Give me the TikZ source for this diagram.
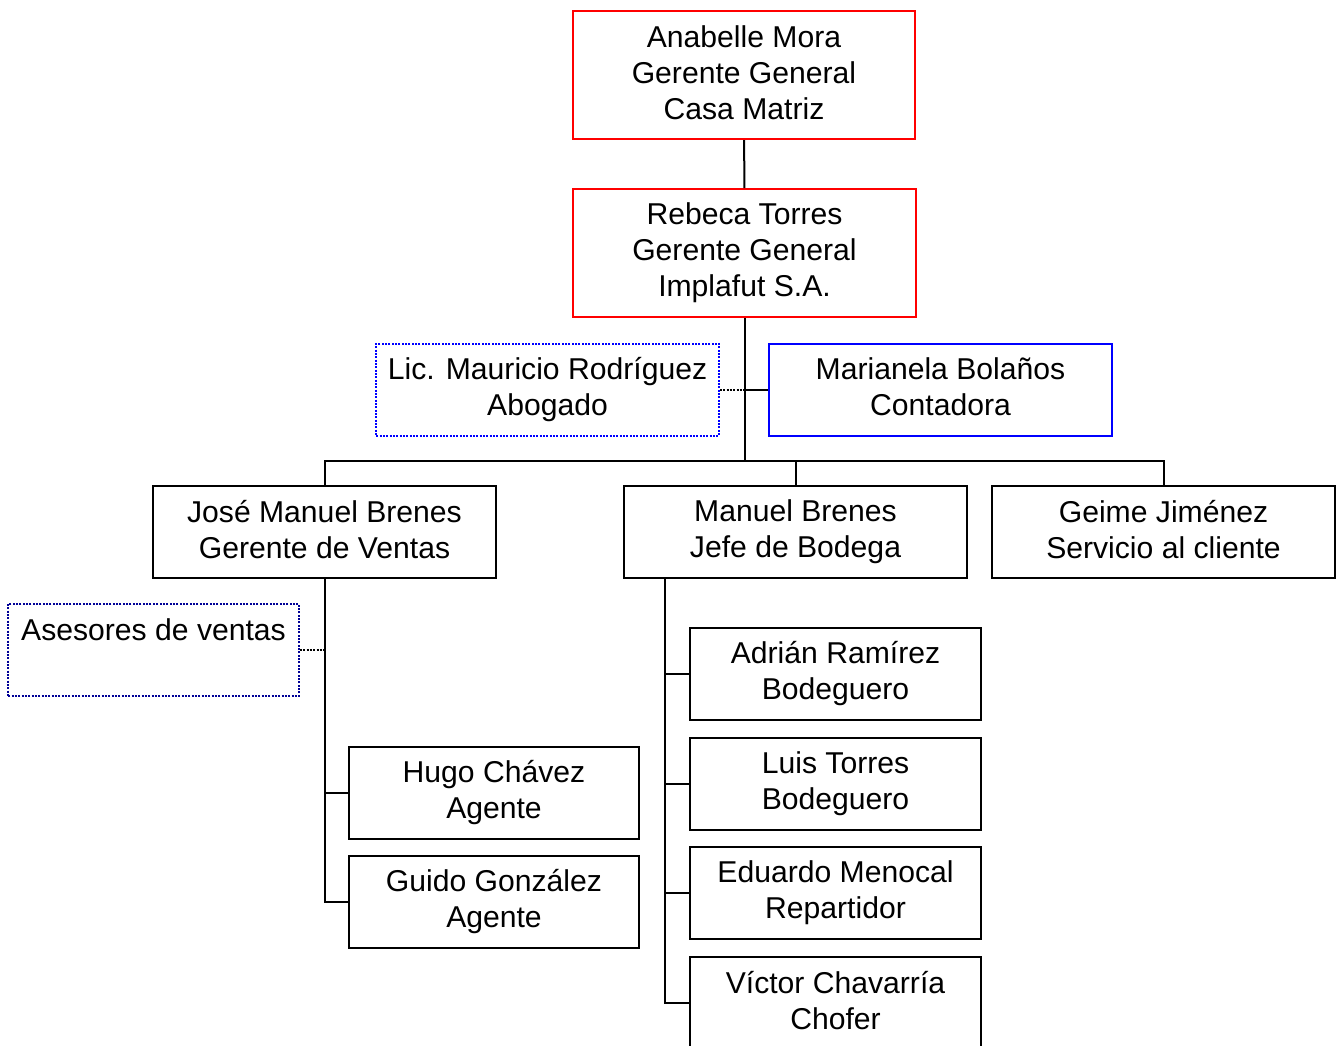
\documentclass[tikz,border=0pt]{standalone}
\usepackage{fontspec}
\setmainfont{Liberation Sans}
\usetikzlibrary{positioning}
\newcommand\linestrut{\rule[-4.2pt]{0pt}{25.2pt}}

\begin{document}
\begin{tikzpicture}[x=0.75pt,y=-0.75pt,line width=1.5pt,
    font=\fontsize{22.6}{27}\selectfont,
    box/.style={draw=black,align=center,inner sep=0pt,minimum width=257pt,minimum height=69pt,
        execute at begin node=\linestrut,execute at end node=\linestrut},
    small/.style={box,minimum width=218pt},
    boss/.style={box,draw=red,minimum height=96pt},
    legal/.style={box,draw=blue,densely dotted},
    staff/.style={box,draw=blue},
    sales/.style={small,draw={rgb,255:red,0;green,0;blue,150},densely dotted},
    link/.style={draw=black}]
        \useasboundingbox (0,0) rectangle (1339,1046);
        \node[boss](mora)at(744, 75){Anabelle Mora\\Gerente General\\Casa Matriz};
        \node[boss](torres)at(744.5, 253){Rebeca Torres\\Gerente General\\Implafut S.A.};
        \node[legal](abogado)at(547.5, 389.5){Lic. Mauricio Rodríguez\\Abogado};
        \node[staff](contadora)at(940.5, 389.5){Marianela Bolaños\\Contadora};
        \node[box](ventas)at(324.5, 532){José Manuel Brenes\\Gerente de Ventas};
        \node[box](bodega)at(795.5, 532){Manuel Brenes\\Jefe de Bodega};
        \node[box](cliente)at(1163.5, 532){Geime Jiménez\\Servicio al cliente};
        \node[sales](asesores)at(153.5, 650){Asesores de ventas\\\mbox{}};
        \node[small](hugo)at(494, 792.5){Hugo Chávez\\Agente};
        \node[small](guido)at(494, 902){Guido González\\Agente};
        \node[small](adrian)at(835.5, 674){Adrián Ramírez\\Bodeguero};
        \node[small](luis)at(835.5, 784){Luis Torres\\Bodeguero};
        \node[small](eduardo)at(835.5, 893){Eduardo Menocal\\Repartidor};
        \node[small](victor)at(835.5, 1003){Víctor Chavarría\\Chofer};
        \coordinate(bus)at(744.5, 461);
        \coordinate(trunk)at(665, 578);
        \path[link](mora) edge (torres)
        (torres) edge (bus)
        (contadora) edge (contadora -| torres)
        (abogado) edge [densely dotted] (abogado -| torres);
        \draw[link] (bus) -| (ventas);
        \draw[link] (bus) -| (bodega);
        \draw[link] (bus) -| (cliente);
        \draw[link] (ventas) |- (hugo);
        \draw[link] (ventas) |- (guido);
        \draw[link,densely dotted] (asesores) -- (asesores -| ventas);
        \draw[link] (trunk) |- (adrian);
        \draw[link] (trunk) |- (luis);
        \draw[link] (trunk) |- (eduardo);
        \draw[link] (trunk) |- (victor);
    \end{tikzpicture}
\end{document}
